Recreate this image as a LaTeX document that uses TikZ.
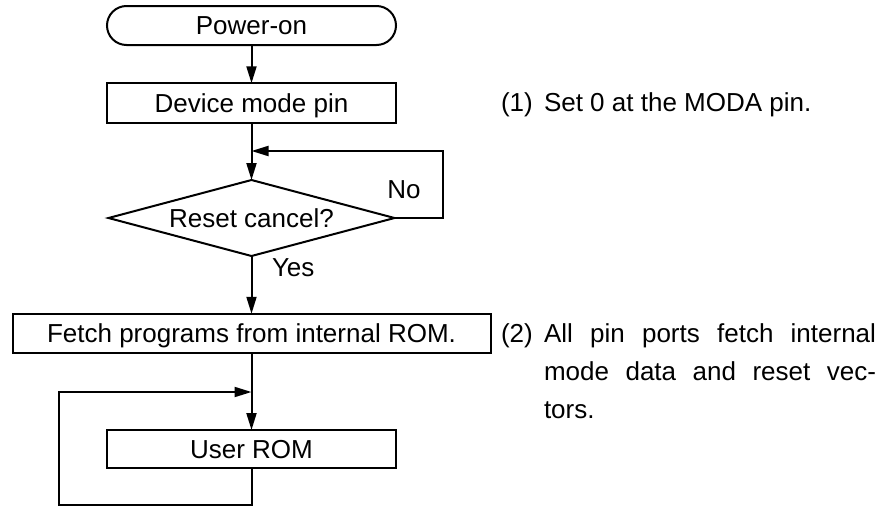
\documentclass[tikz,border=0pt]{standalone}
\usepackage{fontspec}
\setmainfont{Liberation Sans}
\usetikzlibrary{arrows.meta,shapes.geometric}
\begin{document}
\begin{tikzpicture}[x=1pt,y=-1pt,
  every node/.style={font=\fontsize{26}{30}\selectfont, inner sep=0pt, outer sep=0pt, text height=18.7pt, text depth=0pt},
  ln/.style={line width=2pt},
  arr/.style={ln,-{Triangle[length=17pt,width=10pt]}},
  procbox/.style={draw,ln,rectangle,minimum height=39.5pt},
  termbox/.style={draw,ln,rectangle,rounded corners=19.5pt,minimum width=289pt,minimum height=39pt},
  decbox/.style={draw,ln,diamond,aspect=3.76,minimum width=286pt,minimum height=76pt},
  note/.style={anchor=west}
]
\fill[white] (0,0) rectangle (880,506);
\useasboundingbox (0,0) rectangle (880,506);

\node[termbox] (pw) at (251.5,25.5) {Power-on};
\node[procbox,minimum width=289pt] (dev) at (251.5,103) {Device mode pin};
\node[decbox] (dec) at (251.5,218) {Reset cancel?};
\node[procbox,minimum width=478pt] (fetch) at (251.5,333.5) {Fetch programs from internal ROM.};
\node[procbox,minimum width=289pt,minimum height=38pt] (urom) at (251.5,449) {User ROM};

\node (no) at (404,189.5) {No};
\node[anchor=west] (yes) at (272,267.5) {Yes};

\coordinate (j1) at (251.5,151);
\coordinate (j2) at (251.5,392);
\coordinate (lr) at (443,218);
\coordinate (lb) at (59,505);

\draw[arr] (pw.south) -- (dev.north);
\draw[arr] (dev.south) -- (dec.north);
\draw[arr] (dec.east) -- (lr) |- (j1);
\draw[arr] (dec.south) -- (fetch.north);
\draw[arr] (fetch.south) -- (urom.north);
\draw[arr] (urom.south) |- (lb) |- (j2);

\node[note] (n1) at (501,102.5) {(1)};
\node[note] (n1a) at (544,102.5) {Set 0 at the MODA pin.};
\node[note] (n2) at (501,333.5) {(2)};
\node[note] (n2a) at (544,333.5) {\makebox[332pt][s]{All pin ports fetch internal}};
\node[note] (n2b) at (544,371) {\makebox[332pt][s]{mode data and reset vec-}};
\node[note] (n2c) at (544,409) {tors.};
\end{tikzpicture}
\end{document}
